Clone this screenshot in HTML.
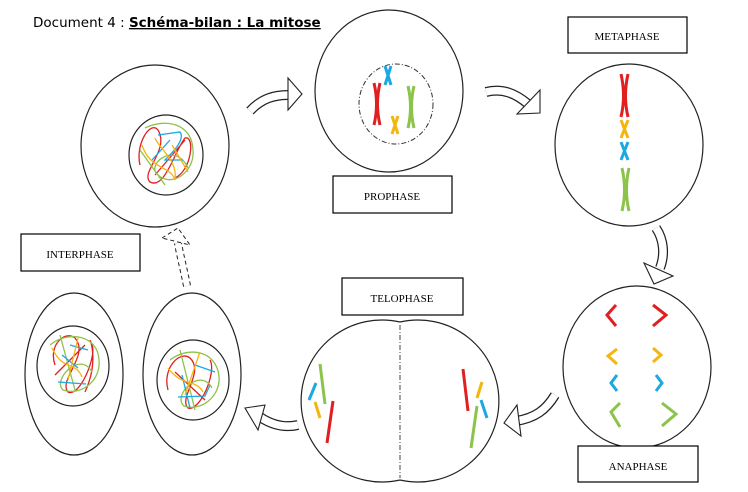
<!DOCTYPE html>
<html><head><meta charset="utf-8"><style>
html,body{margin:0;padding:0;background:#fff;}
svg{display:block;}
.box{fill:#fff;stroke:#000;stroke-width:1.2}
.lbl{font-family:"Liberation Serif",serif;font-size:11px;text-anchor:middle;}
.c{fill:none;stroke:#222;stroke-width:1.2}
</style></head><body>
<svg width="748" height="492" viewBox="0 0 748 492" xmlns="http://www.w3.org/2000/svg">
<text x="33" y="27" font-family="'Comic Sans MS','DejaVu Sans',sans-serif" font-size="13.5">Document 4 : <tspan font-weight="bold" text-decoration="underline">Schéma-bilan : La mitose</tspan></text>

<!-- Interphase cell -->
<ellipse class="c" cx="155" cy="146" rx="74" ry="81"/>
<ellipse class="c" cx="166" cy="155" rx="37" ry="40"/>
<g fill="none" stroke-width="1.3">
<path d="M140,165 C135,145 150,120 158,130 C170,150 140,172 150,182 C165,190 175,150 185,138 C195,135 192,170 175,178 M155,175 L185,140" stroke="#e02020"/>
<path d="M145,128 C165,118 192,123 193,150 C195,172 172,188 158,175 C145,165 175,140 188,168 M140,150 L165,185" stroke="#8cc34a"/>
<path d="M158,135 L180,132 C186,140 170,155 165,160 L183,160 M152,160 L170,140" stroke="#1ca8e0"/>
<path d="M142,145 C150,170 170,165 175,180 C178,160 160,150 155,138 M172,145 L188,172" stroke="#f5b50f"/>
</g>

<!-- arrow 1 -->
<path d="M250,111 C262,98 275,95 288,95" fill="none" stroke="#222" stroke-width="10"/>
<path d="M250,111 C262,98 275,95 288,95" fill="none" stroke="#fff" stroke-width="7.5"/>
<polygon points="288,78 302,94 288,110" fill="#fff" stroke="#222" stroke-width="1.1"/>

<!-- Prophase -->
<ellipse class="c" cx="389" cy="91" rx="74" ry="81"/>
<ellipse cx="396" cy="104" rx="37" ry="40" fill="none" stroke="#333" stroke-width="1" stroke-dasharray="5,2,1,2"/>
<g fill="none" stroke-width="3">
<path d="M385,66 L391,85 M391,66 L385,85" stroke="#1ca8e0"/>
<path d="M374,83 Q379,104 374,125 M380,83 Q375,104 380,125" stroke="#e02020"/>
<path d="M392,116 L398,134 M398,116 L392,134" stroke="#f5b50f"/>
<path d="M408,86 Q413,107 408,128 M414,86 Q409,107 414,128" stroke="#8cc34a"/>
</g>
<rect class="box" x="333" y="176" width="119" height="37"/>
<text class="lbl" x="392" y="200">PROPHASE</text>

<!-- arrow 2 -->
<path d="M486,92 C502,88 515,93 528,104" fill="none" stroke="#222" stroke-width="10"/>
<path d="M486,92 C502,88 515,93 528,104" fill="none" stroke="#fff" stroke-width="7.5"/>
<polygon points="540,90 540,113 517,114" fill="#fff" stroke="#222" stroke-width="1.1"/>

<!-- Metaphase -->
<rect class="box" x="568" y="17" width="119" height="36"/>
<text class="lbl" x="627" y="40">METAPHASE</text>
<ellipse class="c" cx="629" cy="145" rx="74" ry="81"/>
<g fill="none" stroke-width="3">
<path d="M621,74 Q626,96 621,117 M628,74 Q623,96 628,117" stroke="#e02020"/>
<path d="M621,120 L628,138 M628,120 L621,138" stroke="#f5b50f"/>
<path d="M621,142 L628,160 M628,142 L621,160" stroke="#1ca8e0"/>
<path d="M622,168 Q627,190 622,211 M629,168 Q624,190 629,211" stroke="#8cc34a"/>
</g>

<!-- arrow 3 -->
<path d="M656,228 C664,240 665,255 660,268" fill="none" stroke="#222" stroke-width="10"/>
<path d="M656,228 C664,240 665,255 660,268" fill="none" stroke="#fff" stroke-width="7.5"/>
<polygon points="644,263 673,276 654,284" fill="#fff" stroke="#222" stroke-width="1.1"/>

<!-- Anaphase -->
<ellipse class="c" cx="637" cy="367" rx="74" ry="81"/>
<g fill="none" stroke-width="3">
<path d="M616,305 L607,315 L616,326 M653,305 L666,315 L653,326" stroke="#e02020"/>
<path d="M617,349 L608,356 L617,364 M653,348 L661,355 L653,362" stroke="#f5b50f"/>
<path d="M617,375 L611,383 L617,391 M656,375 L662,383 L656,391" stroke="#1ca8e0"/>
<path d="M620,403 L611,412 L620,427 M662,403 L676,414 L662,426" stroke="#8cc34a"/>
</g>
<rect class="box" x="578" y="446" width="120" height="36"/>
<text class="lbl" x="638" y="470">ANAPHASE</text>

<!-- arrow 4 -->
<path d="M555,395 C546,410 535,418 516,421" fill="none" stroke="#222" stroke-width="10"/>
<path d="M555,395 C546,410 535,418 516,421" fill="none" stroke="#fff" stroke-width="7.5"/>
<polygon points="517,405 504,423 521,436" fill="#fff" stroke="#222" stroke-width="1.1"/>

<!-- Telophase -->
<rect class="box" x="342" y="278" width="121" height="37"/>
<text class="lbl" x="402" y="302">TELOPHASE</text>
<path d="M400,322 A81,81 0 1,0 400,480 M400,322 A81,81 0 1,1 400,480" class="c"/>
<line x1="400" y1="325" x2="400" y2="478" stroke="#444" stroke-width="1" stroke-dasharray="5,2,1,2"/>
<g stroke-width="3">
<line x1="320" y1="364" x2="325" y2="404" stroke="#8cc34a"/>
<line x1="309" y1="400" x2="316" y2="383" stroke="#1ca8e0"/>
<line x1="315" y1="402" x2="320" y2="418" stroke="#f5b50f"/>
<line x1="333" y1="401" x2="327" y2="443" stroke="#e02020"/>
<line x1="463" y1="369" x2="468" y2="411" stroke="#e02020"/>
<line x1="482" y1="382" x2="477" y2="398" stroke="#f5b50f"/>
<line x1="481" y1="400" x2="487" y2="418" stroke="#1ca8e0"/>
<line x1="477" y1="406" x2="471" y2="448" stroke="#8cc34a"/>
</g>

<!-- arrow 5 -->
<path d="M298,425 C285,428 272,425 260,417" fill="none" stroke="#222" stroke-width="10"/>
<path d="M298,425 C285,428 272,425 260,417" fill="none" stroke="#fff" stroke-width="7.5"/>
<polygon points="265,405 245,408 258,430" fill="#fff" stroke="#222" stroke-width="1.1"/>

<!-- daughter cells -->
<ellipse class="c" cx="74" cy="374" rx="49" ry="81"/>
<ellipse class="c" cx="73" cy="366" rx="36" ry="40"/>
<ellipse class="c" cx="192" cy="374" rx="49" ry="81"/>
<ellipse class="c" cx="193" cy="380" rx="36" ry="40"/>
<g fill="none" stroke-width="1.3">
<path d="M55,365 C48,345 65,330 75,338 C90,355 58,380 68,392 C80,398 97,355 92,345 C85,330 102,355 85,392 M55,375 L85,345" stroke="#e02020"/>
<path d="M50,345 C68,330 98,335 99,360 C101,382 80,396 63,390 C52,380 80,350 92,372 M60,335 L75,390" stroke="#8cc34a"/>
<path d="M58,382 L86,384 M62,355 L78,368 M70,345 L88,350" stroke="#1ca8e0"/>
<path d="M52,348 C63,372 75,360 82,377 M78,338 L68,380" stroke="#f5b50f"/>
<path d="M168,390 C162,368 180,350 190,358 C205,372 178,398 188,408 C200,412 217,372 210,360 M175,372 L205,400" stroke="#e02020"/>
<path d="M170,360 C188,346 216,350 219,376 C221,397 200,412 184,406 C172,396 200,366 212,388 M180,350 L195,410" stroke="#8cc34a"/>
<path d="M178,397 L205,396 L210,385 M182,375 L190,408 M195,365 L215,372" stroke="#1ca8e0"/>
<path d="M168,368 C183,388 195,378 203,392 M200,352 L185,395" stroke="#f5b50f"/>
</g>

<!-- dashed arrow -->
<path d="M187,286 C184,270 180,255 178,243" fill="none" stroke="#222" stroke-width="8" stroke-dasharray="4,3"/>
<path d="M187,286 C184,270 180,255 178,243" fill="none" stroke="#fff" stroke-width="6"/>
<polygon points="162,238 178,228 190,245" fill="#fff" stroke="#222" stroke-width="1" stroke-dasharray="4,3"/>

<rect class="box" x="21" y="234" width="119" height="37"/>
<text class="lbl" x="80" y="258">INTERPHASE</text>
</svg>
</body></html>
